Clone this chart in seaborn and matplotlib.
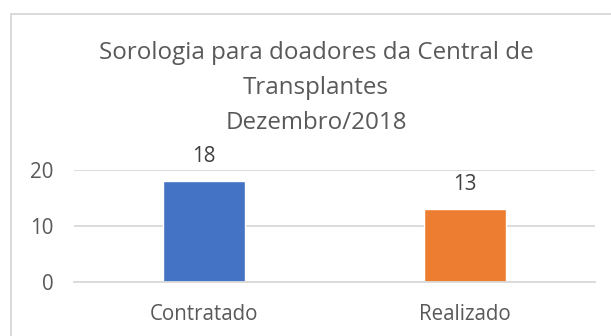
import matplotlib
matplotlib.use("Agg")
import matplotlib.pyplot as plt
from matplotlib.patches import Rectangle
import seaborn as sns

# Data
categories = ["Contratado", "Realizado"]
values = [18, 13]
bar_colors = ["#4472C4", "#ED7D31"]
y_ticks = [0, 10, 20]
title_lines = ["Sorologia para doadores da Central de", "Transplantes", "Dezembro/2018"]

W, H, DPI = 611, 336, 100
sns.set_theme(style="white")
plt.rcParams["font.family"] = ["Open Sans", "DejaVu Sans"]

fig = plt.figure(figsize=(W / DPI, H / DPI), dpi=DPI)
fig.patch.set_facecolor("white")

# Plot area placement (pixels -> figure fractions)
left, right = 74, 595
top, bottom = 169.5, 282
ax = fig.add_axes([left / W, (H - bottom) / H, (right - left) / W, (bottom - top) / H])

sns.barplot(x=categories, y=values, hue=categories, palette=bar_colors,
            width=0.315, legend=False, ax=ax, saturation=1)

ax.set_ylim(0, 20)
ax.set_xlim(-0.5, 1.5)
ax.set_yticks(y_ticks)
ax.yaxis.grid(True, color="#d9d9d9", linewidth=1.3)
ax.set_axisbelow(True)
for s in ["top", "right", "left"]:
    ax.spines[s].set_visible(False)
ax.spines["bottom"].set_color("#d9d9d9")
ax.spines["bottom"].set_linewidth(1.3)
ax.set_xlabel("")
ax.set_ylabel("")
ax.tick_params(axis="both", length=0, colors="#595959", labelsize=14.8)
ax.tick_params(axis="y", pad=15)
ax.tick_params(axis="x", pad=16)

for cont in ax.containers:
    ax.bar_label(cont, labels=[f"{v:g}" for v in cont.datavalues],
                 padding=10, fontsize=14.8, color="#404040")

# Title
fig.text(316 / W, 1 - 41 / H, "\n".join(title_lines), ha="center", va="top",
         fontsize=17.4, color="#595959", linespacing=1.6, multialignment="center")

# Chart-area border
fig.patches.append(Rectangle((10.5 / W, -0.2), 1.2, 1.2 - 13.5 / H,
                             transform=fig.transFigure, fill=False,
                             edgecolor="#d9d9d9", linewidth=1.4, clip_on=False))

fig.savefig("out.png", dpi=DPI, facecolor="white")
